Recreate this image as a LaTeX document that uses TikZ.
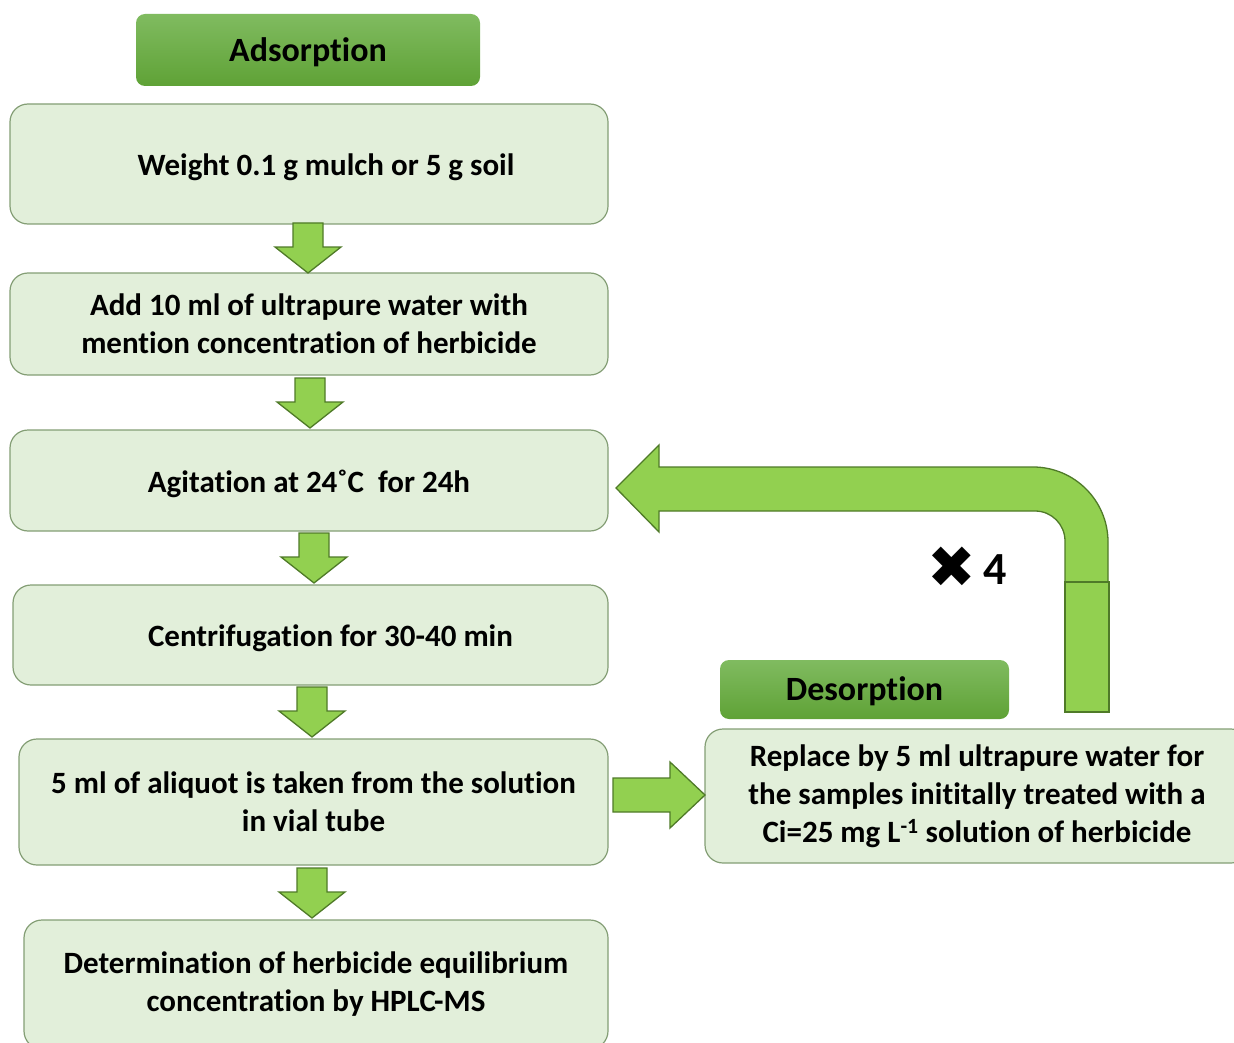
\documentclass[tikz,border=0pt]{standalone}
\usepackage{fontspec}
\setmainfont{Carlito}[Ligatures=NoCommon]
\newfontfamily\dejavu{DejaVu Sans}
\definecolor{boxfill}{HTML}{E2EFDA}
\definecolor{boxline}{HTML}{849E75}
\definecolor{arrfill}{HTML}{92D050}
\definecolor{arrline}{HTML}{4F7A28}
\definecolor{hdtop}{HTML}{80BB60}
\definecolor{hdbot}{HTML}{5FA236}
\newcommand\lowerby[2]{\raisebox{-#1}[\height][\depth]{#2}}
\tikzset{
  stepbox/.style={draw=boxline, fill=boxfill, line width=1.2pt, rounded corners=18pt,
    font=\bfseries\fontsize{31}{38}\selectfont, align=center, inner sep=0pt},
  header/.style={top color=hdtop, bottom color=hdbot, draw=none, rounded corners=9pt,
    font=\bfseries\fontsize{34}{40}\selectfont, inner sep=0pt},
  blockarrow/.style={fill=arrfill, draw=arrline, line width=1.3pt, line join=miter}
}
\newcommand\dnarrow[3]{% x center, y top, y bottom
  \draw[blockarrow] ({#1-15},#2) -- ({#1+15},#2) -- ({#1+15},{#3-26}) -- ({#1+33},{#3-26})
    -- (#1,#3) -- ({#1-33},{#3-26}) -- ({#1-15},{#3-26}) -- cycle;}
\begin{document}
\begin{tikzpicture}[x=1pt,y=-1pt]
\useasboundingbox (0,0) rectangle (1234,1043);
\node[header, minimum width=344pt, minimum height=72pt] (ads) at (308,50) {\lowerby{2pt}{Adsorption}};
\node[stepbox, minimum width=598pt, minimum height=120pt] (b1) at (309,164)
  {\lowerby{3pt}{\hspace*{34pt}Weight 0.1 g mulch or 5 g soil}};
\node[stepbox, minimum width=598pt, minimum height=102pt] (b2) at (309,324)
  {Add 10 ml of ultrapure water with\\mention concentration of herbicide};
\node[stepbox, minimum width=598pt, minimum height=101pt] (b3) at (309,480.5)
  {\lowerby{3pt}{Agitation at 24˚C\ \ for 24h}};
\node[stepbox, minimum width=595pt, minimum height=100pt] (b4) at (310.5,635)
  {\lowerby{3pt}{\hspace*{40pt}Centrifugation for 30-40 min}};
\node[stepbox, minimum width=589pt, minimum height=126pt] (b5) at (313.5,802)
  {5 ml of aliquot is taken from the solution\\in vial tube};
\node[stepbox, minimum width=584pt, minimum height=129pt] (b6) at (316,984.5)
  {Determination of herbicide equilibrium\\concentration by HPLC-MS};
\node[header, minimum width=289pt, minimum height=59pt] (des) at (864.5,689.5) {\lowerby{2pt}{Desorption}};
\node[stepbox, minimum width=544pt, minimum height=134pt] (b7) at (977,796)
  {Replace by 5 ml ultrapure water for\\the samples inititally treated with a\\Ci=25 mg L\textsuperscript{-1} solution of herbicide};
\node[font=\bfseries\fontsize{46}{50}\selectfont, inner sep=0pt] (times) at (967,567)
  {{\dejavu\fontsize{58}{60}\selectfont ✖}\,\raisebox{3pt}{\bfseries 4}};
% down arrows
\dnarrow{308}{223}{273}
\dnarrow{310}{378}{428}
\dnarrow{314}{533}{583}
\dnarrow{312}{687}{737}
\dnarrow{312}{868}{918}
% right arrow
\draw[blockarrow] (613,778) -- (670,778) -- (670,762) -- (705,795) -- (670,828) -- (670,812) -- (613,812) -- cycle;
% bent return arrow
\draw[blockarrow] (616,488) -- (659,445) -- (659,467) -- (1033,467)
  .. controls (1074.4,467) and (1108,500.6) .. (1108,542) -- (1108,582) -- (1065,582) -- (1065,541)
  .. controls (1065,524.4) and (1051.6,511) .. (1035,511) -- (659,511) -- (659,532) -- cycle;
\draw[blockarrow] (1065,582) rectangle (1109,712);
\end{tikzpicture}
\end{document}
